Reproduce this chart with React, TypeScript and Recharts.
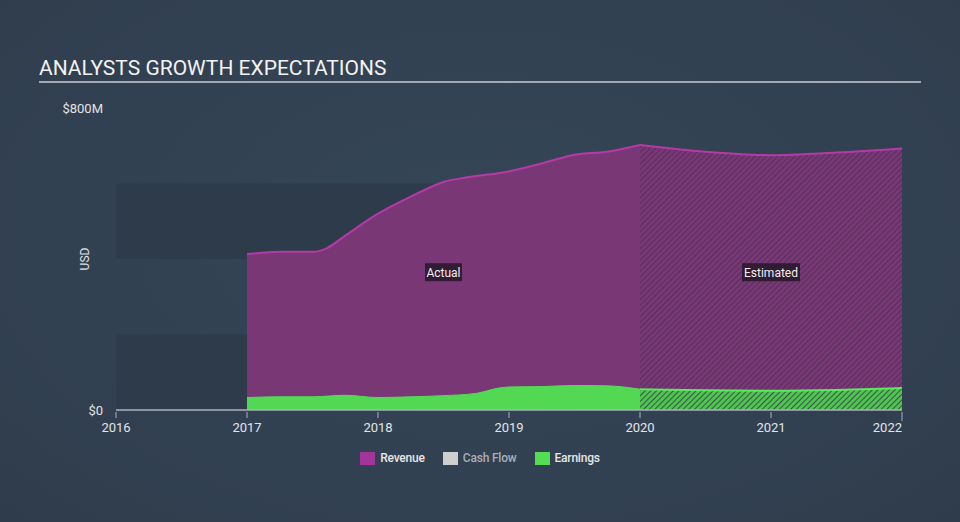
import React from 'react';
import {
  ComposedChart,
  Area,
  XAxis,
  YAxis,
  Legend,
  ReferenceArea,
  ReferenceDot,
} from 'recharts';

const xTicks = [2016, 2017, 2018, 2019, 2020, 2021, 2022];
const yTicks = [0, 800];

const revenueActualYears = [2017, 2017.25, 2017.5, 2017.6, 2017.75, 2018, 2018.25, 2018.5, 2018.67, 2019, 2019.25, 2019.5, 2019.75, 2020];
const revenueActual = [413, 419, 419, 427, 462, 520, 565, 604, 616, 632, 653, 676, 684, 702];

const earningsActualYears = [2017, 2017.25, 2017.5, 2017.75, 2018, 2018.25, 2018.5, 2018.75, 2018.92, 2019, 2019.25, 2019.5, 2019.75, 2020];
const earningsActual = [33, 35, 35, 39, 33, 35, 38, 44, 58, 61, 62, 65, 64, 55];

const estimatedYears = [2020, 2020.5, 2021, 2021.5, 2022];
const revenueEstimated = [702, 684, 675, 682, 693];
const earningsEstimated = [55, 52, 51, 53, 58];

const legendItems = [
  { name: 'Revenue', color: '#a2359a', text: '#e6e6e6' },
  { name: 'Cash Flow', color: '#cfcfcf', text: '#a9afb6' },
  { name: 'Earnings', color: '#52dd52', text: '#e6e6e6' },
];

const toRows = (years: number[], values: number[]) =>
  years.map((year, i) => ({ year, value: values[i] }));

const revA = toRows(revenueActualYears, revenueActual);
const revE = toRows(estimatedYears, revenueEstimated);
const earnA = toRows(earningsActualYears, earningsActual);
const earnE = toRows(estimatedYears, earningsEstimated);

const FONT = 'Roboto, "Noto Sans", sans-serif';

const XTick = (props: any) => {
  const { x, y, payload } = props;
  const last = payload.value === 2022;
  return (
    <g>
      <line x1={x} y1={y - 6} x2={x} y2={y + (last ? 3 : 0)} stroke="#aab2bb" strokeWidth={1} />
      <text
        x={x}
        y={y + 14}
        textAnchor={last ? 'end' : 'middle'}
        fill="#e2e4e6"
        fontSize={13}
        fontFamily={FONT}
      >
        {payload.value}
      </text>
    </g>
  );
};

const YTick = (props: any) => {
  const { x, y, payload } = props;
  return (
    <text x={x} y={y + 5} textAnchor="end" fill="#e2e4e6" fontSize={13} fontFamily={FONT}>
      {payload.value === 0 ? '$0' : `$${payload.value}M`}
    </text>
  );
};

const TagShape = (text: string, w: number) => (p: any) => {
  const { cx, cy } = p;
  return (
    <g>
      <rect x={cx - w / 2} y={cy - 9} width={w} height={18} fill="#2a1a2e" fillOpacity={0.9} />
      <text x={cx} y={cy + 4.5} textAnchor="middle" fill="#eeeeee" fontSize={12} fontFamily={FONT}>
        {text}
      </text>
    </g>
  );
};

const LegendContent = () => (
  <div
    style={{
      display: 'flex',
      justifyContent: 'center',
      alignItems: 'center',
      height: 20,
      fontFamily: FONT,
      fontSize: 12,
      fontWeight: 500,
    }}
  >
    {legendItems.map((it) => (
      <div key={it.name} style={{ display: 'flex', alignItems: 'center', margin: '0 9px' }}>
        <span style={{ display: 'inline-block', width: 15, height: 13, background: it.color, marginRight: 5 }} />
        <span style={{ color: it.text, letterSpacing: -0.2 }}>{it.name}</span>
      </div>
    ))}
  </div>
);

export default function App() {
  return (
    <div
      style={{
        position: 'absolute',
        left: 0,
        top: 0,
        width: 960,
        height: 522,
        background: 'radial-gradient(ellipse at 50% 45%, #354657 0%, #324152 60%, #2f3c4b 100%)',
        overflow: 'hidden',
      }}
    >
      <div
        style={{
          position: 'absolute',
          left: 39,
          top: 56,
          fontFamily: FONT,
          fontSize: 21,
          color: '#f2f2f2',
          letterSpacing: 0,
          lineHeight: '24px',
        }}
      >
        ANALYSTS GROWTH EXPECTATIONS
      </div>
      <div style={{ position: 'absolute', left: 39, top: 81, width: 882, height: 2, background: '#a3a9b0' }} />
      <div style={{ position: 'absolute', left: 0, top: 0 }}>
        <ComposedChart width={960} height={522} margin={{ top: 108, right: 58, left: 0, bottom: 62 }}>
          <defs>
            <pattern id="hatchPurple" patternUnits="userSpaceOnUse" width="4" height="4" patternTransform="rotate(45)">
              <rect width="4" height="4" fill="#7a3776" />
              <line x1="0" y1="0" x2="0" y2="4" stroke="#4d3058" strokeWidth="1.8" />
            </pattern>
            <pattern id="hatchGreen" patternUnits="userSpaceOnUse" width="4" height="4" patternTransform="rotate(45)">
              <rect width="4" height="4" fill="#4fc551" />
              <line x1="0" y1="0" x2="0" y2="4" stroke="#3b5247" strokeWidth="2" />
            </pattern>
          </defs>
          <XAxis
            dataKey="year"
            type="number"
            domain={[2016, 2022]}
            ticks={xTicks}
            allowDataOverflow
            axisLine={{ stroke: '#aab2bb', strokeWidth: 1.5 }}
            tickLine={false}
            tick={<XTick />}
            height={30}
            interval={0}
          />
          <YAxis
            type="number"
            domain={[0, 800]}
            ticks={yTicks}
            width={116}
            axisLine={false}
            tickLine={false}
            tickSize={0}
            tickMargin={13}
            tick={<YTick />}
            interval={0}
            label={{
              content: (p: any) => {
                const vb = p.viewBox || { x: 0, y: 108, height: 302 };
                const cx = 89;
                const cy = vb.y + vb.height / 2;
                return (
                  <text
                    x={cx}
                    y={cy}
                    transform={`rotate(-90, ${cx}, ${cy})`}
                    textAnchor="middle"
                    fill="#dfe2e5"
                    fontSize={12}
                    fontFamily={FONT}
                  >
                    USD
                  </text>
                );
              },
            }}
          />
          <ReferenceArea x1={2016} x2={2020} y1={0} y2={200} fill="#2e3b4a" fillOpacity={1} stroke="none" ifOverflow="hidden" />
          <ReferenceArea x1={2016} x2={2020} y1={400} y2={600} fill="#2e3b4a" fillOpacity={1} stroke="none" ifOverflow="hidden" />
          <Area
            data={revA}
            dataKey="value"
            name="Revenue"
            type="monotone"
            fill="#7a3776"
            fillOpacity={1}
            stroke="#b43aa8"
            strokeWidth={2}
            isAnimationActive={false}
            dot={false}
            activeDot={false}
          />
          <Area
            data={revE}
            dataKey="value"
            name="Revenue estimated"
            type="monotone"
            fill="url(#hatchPurple)"
            fillOpacity={1}
            stroke="#b43aa8"
            strokeWidth={2}
            isAnimationActive={false}
            dot={false}
            activeDot={false}
          />
          <Area
            data={earnA}
            dataKey="value"
            name="Earnings"
            type="monotone"
            fill="#52d853"
            fillOpacity={1}
            stroke="#55dc55"
            strokeWidth={1}
            isAnimationActive={false}
            dot={false}
            activeDot={false}
          />
          <Area
            data={earnE}
            dataKey="value"
            name="Earnings estimated"
            type="monotone"
            fill="url(#hatchGreen)"
            fillOpacity={1}
            stroke="#5ee85e"
            strokeWidth={2}
            isAnimationActive={false}
            dot={false}
            activeDot={false}
          />
          <ReferenceDot x={2018.5} y={365} r={0} ifOverflow="visible" shape={TagShape('Actual', 37)} />
          <ReferenceDot x={2021} y={365} r={0} ifOverflow="visible" shape={TagShape('Estimated', 58)} />
          <Legend
            verticalAlign="bottom"
            content={<LegendContent />}
            wrapperStyle={{ top: 448, bottom: 'auto', left: 0, width: 960, height: 20 }}
          />
        </ComposedChart>
      </div>
    </div>
  );
}
